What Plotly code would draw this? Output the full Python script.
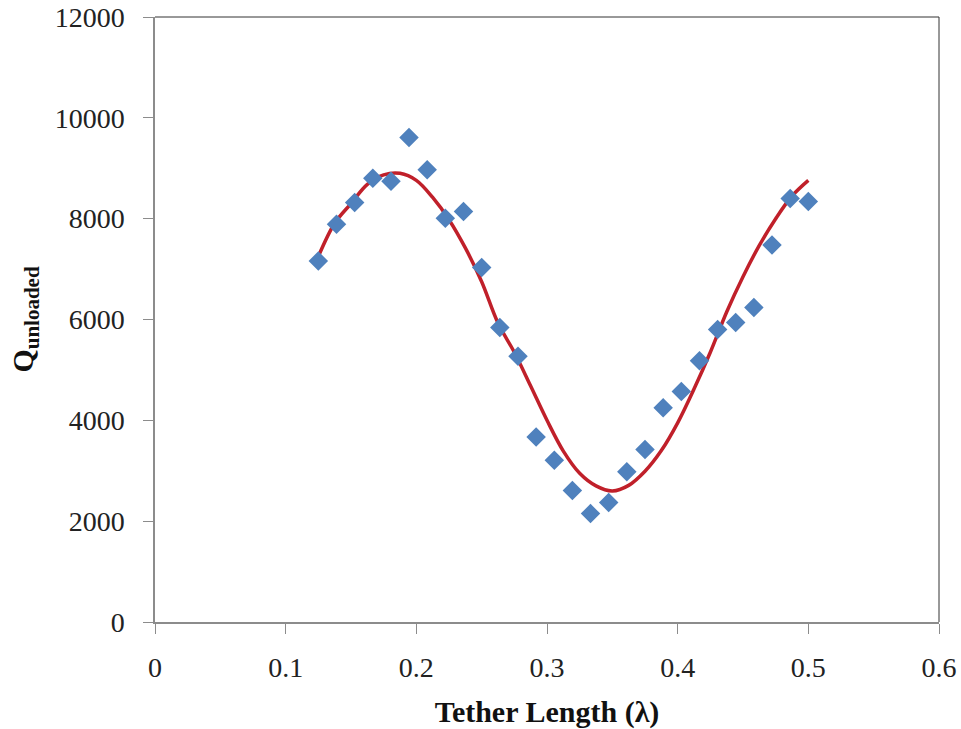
import plotly.graph_objects as go

# Measured data
tether_length = [0.125, 0.1389, 0.1528, 0.1667, 0.1806, 0.1944, 0.2083, 0.2222,
                 0.2361, 0.25, 0.2639, 0.2778, 0.2917, 0.3056, 0.3194, 0.3333,
                 0.3472, 0.3611, 0.375, 0.3889, 0.4028, 0.4167, 0.4306, 0.4444,
                 0.4583, 0.4722, 0.4861, 0.5]
q_unloaded = [7160, 7890, 8320, 8800, 8740, 9610, 8970, 8010,
              8140, 7030, 5840, 5270, 3670, 3210, 2610, 2150,
              2370, 2980, 3420, 4250, 4570, 5180, 5800, 5940,
              6240, 7480, 8400, 8340]

# Trend line
fit_x = [0.125, 0.1375, 0.15, 0.1625, 0.175, 0.1875, 0.2, 0.2125, 0.225, 0.2375,
         0.25, 0.2625, 0.275, 0.2875, 0.3, 0.3125, 0.325, 0.3375, 0.35, 0.3625,
         0.375, 0.3875, 0.4, 0.4125, 0.425, 0.4375, 0.45, 0.4625, 0.475, 0.4875, 0.5]
fit_y = [7250, 7910, 8300, 8680, 8870, 8900, 8760, 8420, 7980, 7420,
         6750, 5930, 5350, 4680, 4000, 3390, 2950, 2700, 2600, 2710,
         2990, 3400, 3950, 4620, 5350, 6150, 6850, 7470, 8000, 8450, 8760]

x_ticks = [0, 0.1, 0.2, 0.3, 0.4, 0.5, 0.6]
x_tick_text = ["0", "0.1", "0.2", "0.3", "0.4", "0.5", "0.6"]
y_ticks = [0, 2000, 4000, 6000, 8000, 10000, 12000]
y_tick_text = ["0", "2000", "4000", "6000", "8000", "10000", "12000"]

fig = go.Figure()
fig.add_trace(go.Scatter(
    x=fit_x, y=fit_y, mode="lines", line=dict(color="#C0202A", width=3.5, shape="spline"),
    showlegend=False, hoverinfo="skip"))
fig.add_trace(go.Scatter(
    x=tether_length, y=q_unloaded, mode="markers",
    marker=dict(symbol="diamond", size=15, color="#4F81BD"),
    showlegend=False))

font_family = "Liberation Serif, Times New Roman, serif"
fig.update_layout(
    width=961, height=729,
    margin=dict(l=155, r=22, t=17, b=107),
    paper_bgcolor="white", plot_bgcolor="white",
    font=dict(family=font_family, color="#222222", size=18),
    xaxis=dict(range=[0, 0.6], tickvals=x_ticks, ticktext=x_tick_text,
               automargin=False,
               showgrid=False, zeroline=False, showline=True, linecolor="#8C8C8C",
               linewidth=1.5, ticks="outside", ticklen=10, tickcolor="#8C8C8C",
               tickfont=dict(size=28, family=font_family, color="#222222"),
               ticklabelstandoff=10,
               title=dict(text="<b>Tether Length (λ)</b>", standoff=19,
                          font=dict(size=30, family=font_family, color="#111111"))),
    yaxis=dict(range=[0, 12000], tickvals=y_ticks, ticktext=y_tick_text,
               automargin=False,
               showgrid=False, zeroline=False, showline=True, linecolor="#8C8C8C",
               linewidth=1.5, ticks="outside", ticklen=10, tickcolor="#8C8C8C",
               tickfont=dict(size=28, family=font_family, color="#222222"),
               ticklabelstandoff=13,
               title=dict(text="<b>Q<sub>unloaded</sub></b>", standoff=12,
                          font=dict(size=30, family=font_family, color="#111111"))),
    shapes=[
        dict(type="line", xref="paper", yref="paper", x0=0, x1=1, y0=1, y1=1,
             line=dict(color="#333333", width=1)),
        dict(type="line", xref="paper", yref="paper", x0=1, x1=1, y0=0, y1=1,
             line=dict(color="#333333", width=1)),
    ],
)

fig.write_html("out.html")
